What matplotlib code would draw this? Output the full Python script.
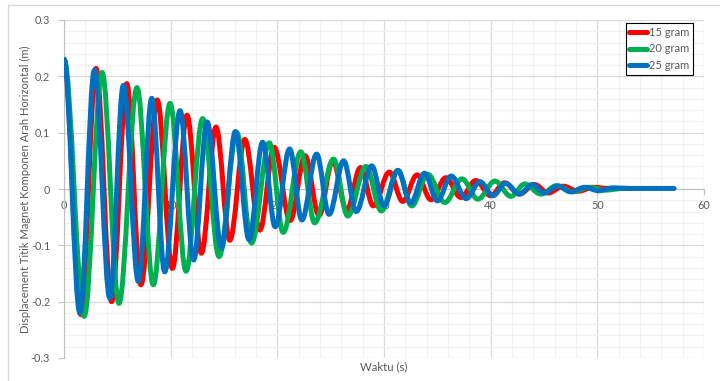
import matplotlib
matplotlib.use('Agg')
import matplotlib.pyplot as plt
from matplotlib.path import Path
from matplotlib.patches import PathPatch, Rectangle
from matplotlib.lines import Line2D
from matplotlib.ticker import MultipleLocator

# extremum points (time in s, displacement in m)
t_15 = [0, 1.58, 3.0, 4.46, 5.88, 7.21, 8.74, 10.16, 11.53, 12.88, 14.25, 15.54,
        16.95, 18.36, 19.7, 21.2, 22.6, 23.9, 25.2, 26.5, 27.8, 29.0, 30.5, 31.75,
        33.1, 34.4, 35.8, 37.2, 38.6, 40.0, 41.3, 42.7, 44.1, 45.4, 46.8, 48.2,
        49.6, 51.0, 53.0]
y_15 = [0.23, -0.223, 0.214, -0.200, 0.187, -0.170, 0.158, -0.141, 0.131, -0.114,
        0.110, -0.091, 0.088, -0.073, 0.074, -0.056, 0.059, -0.047, 0.050, -0.038,
        0.038, -0.030, 0.030, -0.022, 0.025, -0.019, 0.020, -0.015, 0.015, -0.012,
        0.011, -0.009, 0.008, -0.007, 0.005, -0.004, 0.003, 0.001, 0.001]

t_20 = [0, 1.89, 3.57, 5.15, 6.84, 8.37, 9.94, 11.44, 13.0, 14.54, 16.2, 17.58,
        19.25, 20.55, 22.2, 23.5, 25.27, 26.6, 28.3, 29.75, 31.3, 32.6, 34.1, 35.7,
        37.3, 38.8, 40.4, 41.9, 43.2, 44.7, 46.2, 47.7, 49.2, 50.7, 52.5]
y_20 = [0.23, -0.226, 0.207, -0.203, 0.180, -0.170, 0.152, -0.146, 0.125, -0.120,
        0.100, -0.096, 0.082, -0.077, 0.066, -0.060, 0.053, -0.048, 0.040, -0.039,
        0.033, -0.030, 0.026, -0.024, 0.018, -0.018, 0.014, -0.013, 0.009, -0.009,
        0.006, -0.005, 0.003, -0.002, 0.001]

t_25 = [0, 1.49, 2.85, 4.30, 5.57, 6.97, 8.23, 9.44, 10.88, 12.15, 13.42, 14.76,
        16.07, 17.35, 18.62, 19.8, 21.15, 22.3, 23.68, 24.85, 26.22, 27.4, 28.85,
        30.0, 31.3, 32.5, 33.8, 35.0, 36.3, 37.7, 39.0, 40.2, 41.4, 42.7, 43.9,
        45.0, 46.3, 47.5, 48.8, 50.1, 51.5, 53.0, 57.2]
y_25 = [0.23, -0.220, 0.211, -0.194, 0.184, -0.164, 0.161, -0.147, 0.139, -0.126,
        0.119, -0.105, 0.102, -0.090, 0.083, -0.067, 0.071, -0.055, 0.062, -0.045,
        0.050, -0.040, 0.041, -0.030, 0.033, -0.025, 0.028, -0.021, 0.023, -0.017,
        0.013, -0.012, 0.010, -0.009, 0.008, -0.007, 0.005, -0.005, 0.003, -0.003,
        0.002, 0.001, 0.001]

labels = ['15 gram', '20 gram', '25 gram']
colors = ['#FF0000', '#00B050', '#0070C0']

plt.rcParams['font.family'] = ['Lato', 'DejaVu Sans']
text_color = '#595959'


def smooth_path(t, y, k=0.3634):
    # smoothed line through the extremes (horizontal tangent at each one)
    verts = [(t[0], y[0])]
    codes = [Path.MOVETO]
    for i in range(len(t) - 1):
        dt = t[i + 1] - t[i]
        verts += [(t[i] + k * dt, y[i]), (t[i + 1] - k * dt, y[i + 1]),
                  (t[i + 1], y[i + 1])]
        codes += [Path.CURVE4] * 3
    return Path(verts, codes)


fig = plt.figure(figsize=(7.2, 3.81), dpi=100)
ax = fig.add_axes([64 / 720, 23 / 381, 640 / 720, 338 / 381])

# outer chart border (cropped at right/bottom)
fig.patches.append(Rectangle((8 / 720, -0.1), 1.2, (381 - 5) / 381 + 0.1,
                             transform=fig.transFigure, fill=False,
                             edgecolor='#D9D9D9', lw=1))

ax.set_xlim(0, 60)
ax.set_ylim(-0.3, 0.3)
ax.xaxis.set_major_locator(MultipleLocator(10))
ax.xaxis.set_minor_locator(MultipleLocator(2))
ax.yaxis.set_major_locator(MultipleLocator(0.1))
ax.yaxis.set_minor_locator(MultipleLocator(0.02))
ax.grid(which='major', color='#D9D9D9', lw=0.9)
ax.grid(which='minor', color='#F2F2F2', lw=0.9)
ax.set_axisbelow(True)

ax.set_yticks([-0.3, -0.2, -0.1, 0, 0.1, 0.2, 0.3])
ax.set_yticklabels(['-0.3', '-0.2', '-0.1', '0', '0.1', '0.2', '0.3'])
ax.set_xticks([0, 10, 20, 30, 40, 50, 60])
ax.set_xticklabels(['0', '10', '20', '30', '40', '50', '60'])

for s in ['top', 'right']:
    ax.spines[s].set_visible(False)
ax.spines['bottom'].set_position(('data', 0))
ax.spines['bottom'].set_color('#BFBFBF')
ax.spines['left'].set_color('#BFBFBF')
ax.tick_params(axis='both', which='major', colors='#BFBFBF', labelcolor=text_color,
               labelsize=7.8, length=4, width=0.8)
ax.tick_params(axis='y', pad=6)
ax.tick_params(axis='x', pad=4)
ax.tick_params(which='minor', length=0)

for t, y, c in zip([t_15, t_20, t_25], [y_15, y_20, y_25], colors):
    ax.add_patch(PathPatch(smooth_path(t, y), facecolor='none', edgecolor=c,
                           lw=3.6, capstyle='round', joinstyle='round', zorder=3))

ax.set_ylabel('Displacement Titik Magnet Komponen Arah Horizontal (m)',
              fontsize=8, color=text_color, va='center')
ax.yaxis.set_label_coords((25 - 64) / 640, 0.5)
ax.set_xlabel('Waktu (s)', fontsize=8.2, color=text_color, va='center')
ax.xaxis.set_label_coords(0.5, (358 - 367) / 338)

handles = [Line2D([], [], color=c, lw=3.6, solid_capstyle='round') for c in colors]
leg = ax.legend(handles, labels, loc='upper right', bbox_to_anchor=(0.983, 0.991),
                borderaxespad=0, fancybox=False, framealpha=1, edgecolor='black',
                fontsize=8, handlelength=1.6, handletextpad=0.15,
                labelspacing=0.5, borderpad=0.35, labelcolor=text_color)
leg.get_frame().set_linewidth(0.8)

plt.savefig('out.png', dpi=100)
plt.close()
